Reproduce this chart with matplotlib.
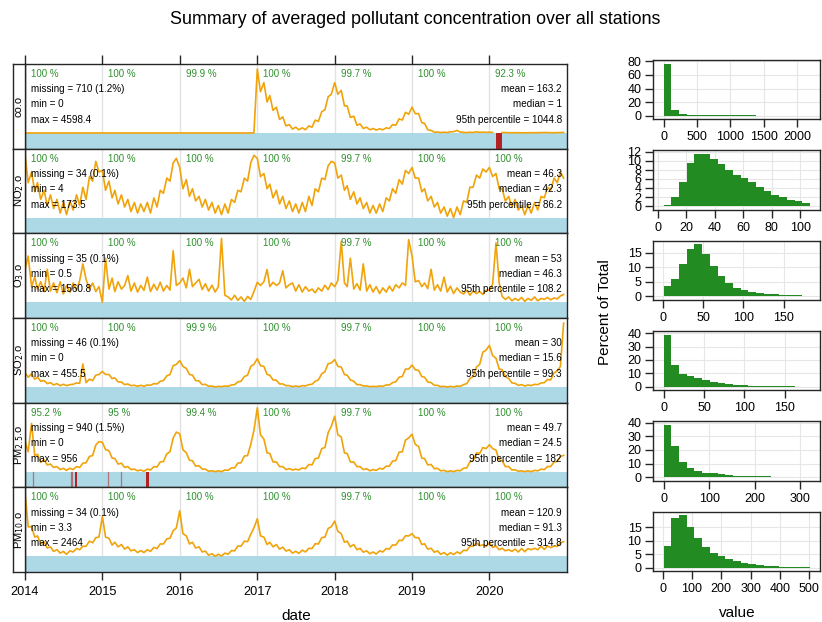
import numpy as np
import matplotlib
matplotlib.use("Agg")
import matplotlib.pyplot as plt
import matplotlib.dates as mdates
import matplotlib.transforms as mtransforms
from matplotlib.patches import Rectangle

plt.rcParams['font.family'] = ['Liberation Sans', 'DejaVu Sans']

# ---------------------------------------------------------------- data
years = [2014, 2015, 2016, 2017, 2018, 2019, 2020]
# semi-monthly averaged concentrations (1st and 16th of every month)
dates = np.array([np.datetime64(f"{y}-{m:02d}-{d:02d}")
                  for y in years for m in range(1, 13) for d in (1, 16)])

co_daily = [
    1, 0, 1, 1, 0, 1, 0, 0, 1, 0, 0, 1, 0, 0, 1, 0, 0, 1, 0, 1, 0, 1, 1, 0,
    1, 0, 0, 1, 0, 1, 0, 1, 0, 0, 1, 0, 0, 1, 0, 0, 1, 0, 1, 0, 0, 1, 0, 1,
    0, 1, 0, 0, 1, 0, 1, 0, 0, 1, 0, 0, 1, 0, 1, 0, 0, 1, 0, 1, 0, 0, 1, 2,
    990, 640, 780, 480, 580, 350, 400, 210, 250, 110, 130, 60, 90, 50, 80, 50, 110, 90, 200, 180, 330, 360, 560, 600,
    780, 600, 660, 420, 420, 240, 260, 120, 140, 70, 90, 50, 70, 45, 65, 50, 80, 70, 130, 120, 220, 200, 320, 290,
    400, 300, 300, 160, 150, 50, 40, 12, 15, 8, 12, 8, 18, 20, 40, 15, 10, 6, 12, 8, 18, 10, 14, 10,
    12, 10, np.nan, np.nan, 8, 6, 5, 5, 4, 4, 3, 3, 4, 4, 5, 5, 6, 8, 6, 5, 4, 5, 6, 8,
]
no2_daily = [
    104, 66, 80, 54, 66, 44, 56, 36, 50, 32, 44, 26, 40, 24, 42, 30, 50, 36, 60, 44, 74, 68, 94, 80,
    82, 56, 68, 46, 56, 38, 50, 34, 44, 28, 40, 26, 38, 28, 40, 26, 46, 34, 56, 52, 72, 68, 92, 98,
    86, 58, 70, 48, 58, 42, 48, 34, 44, 30, 40, 26, 36, 24, 38, 26, 44, 40, 56, 54, 72, 68, 92, 102,
    98, 74, 78, 58, 64, 46, 56, 38, 48, 32, 42, 28, 38, 26, 40, 28, 48, 36, 58, 54, 72, 70, 88, 94,
    92, 72, 76, 56, 62, 44, 54, 38, 46, 32, 40, 26, 36, 26, 38, 28, 46, 42, 58, 52, 70, 64, 82, 78,
    86, 72, 72, 54, 58, 42, 48, 34, 40, 26, 34, 22, 32, 20, 34, 24, 42, 40, 60, 60, 76, 72, 84, 80,
    86, 74, 78, 58, 58, 42, 48, 34, 44, 30, 36, 24, 36, 26, 40, 30, 48, 46, 60, 56, 72, 66, 80, 72,
]
o3_daily = [
    150, 205, 80, 120, 70, 100, 60, 151, 62, 95, 55, 100, 50, 85, 58, 95, 65, 105, 173, 110, 70, 95, 60, 80,
    16, 196, 70, 115, 60, 100, 70, 85, 125, 62, 95, 58, 85, 65, 119, 60, 90, 66, 98, 62, 85, 66, 227, 85,
    95, 115, 75, 151, 80, 95, 110, 68, 92, 62, 86, 58, 80, 277, 45, 38, 26, 45, 24, 38, 20, 40, 28, 60,
    98, 85, 100, 150, 80, 98, 85, 95, 145, 75, 88, 95, 62, 88, 58, 80, 62, 70, 55, 75, 62, 86, 68, 95,
    80, 105, 265, 95, 80, 196, 70, 92, 66, 173, 62, 88, 58, 80, 52, 75, 58, 82, 62, 88, 75, 95, 85, 272,
    205, 100, 105, 80, 95, 72, 151, 66, 88, 62, 119, 58, 82, 52, 75, 58, 50, 66, 45, 62, 52, 60, 48, 66,
    65, 90, 259, 95, 40, 28, 38, 22, 32, 24, 36, 20, 32, 24, 38, 22, 32, 28, 36, 26, 34, 30, 42, 48,
]
so2_daily = [
    45, 32, 42, 26, 32, 20, 22, 13, 16, 9, 13, 7, 11, 7, 10, 11, 15, 14, 71, 16, 26, 22, 38, 40,
    49, 40, 40, 28, 30, 18, 18, 10, 12, 7, 8, 5, 8, 5, 9, 8, 13, 12, 20, 22, 36, 40, 66, 70,
    81, 64, 58, 40, 38, 22, 21, 10, 11, 5, 6, 3, 5, 4, 6, 5, 9, 10, 18, 20, 34, 38, 64, 70,
    87, 66, 64, 40, 38, 24, 23, 12, 12, 7, 7, 4, 6, 4, 7, 6, 10, 11, 20, 24, 42, 48, 72, 74,
    84, 64, 62, 40, 38, 24, 20, 10, 10, 6, 6, 4, 5, 4, 6, 5, 9, 9, 16, 18, 32, 34, 56, 56,
    68, 54, 52, 34, 32, 18, 16, 8, 8, 4, 5, 3, 5, 3, 6, 5, 10, 13, 28, 34, 62, 70, 106, 112,
    126, 96, 88, 56, 54, 34, 28, 15, 14, 8, 10, 6, 9, 7, 11, 10, 15, 16, 25, 24, 45, 50, 64, 192,
]
pm25_daily = [
    150, 100, 234, 82, 88, 50, 62, 38, 42, 26, 30, 16, 22, 12, 22, 16, 30, 26, 46, 48, 78, 82, 132, 148,
    145, 110, 105, 70, 68, 42, 46, 26, 30, 16, 18, 10, 14, 8, 18, 14, 30, 28, 52, 54, 90, 100, 165, 193,
    185, 110, 95, 60, 58, 32, 34, 18, 18, 8, 10, 6, 10, 6, 14, 12, 24, 24, 46, 48, 80, 82, 135, 200,
    308, 180, 160, 95, 92, 52, 52, 30, 30, 16, 20, 14, 18, 14, 24, 20, 40, 38, 68, 70, 115, 120, 190, 220,
    268, 180, 170, 95, 92, 52, 52, 30, 30, 16, 20, 10, 16, 12, 22, 18, 32, 32, 56, 58, 98, 100, 155, 165,
    183, 135, 125, 70, 68, 38, 40, 20, 22, 10, 12, 6, 10, 6, 12, 10, 22, 24, 52, 58, 95, 92, 120, 115,
    133, 115, 108, 60, 58, 30, 30, 14, 15, 8, 10, 6, 10, 6, 12, 10, 18, 16, 30, 30, 52, 54, 78, 83,
]
pm10_daily = [
    600, 300, 300, 210, 220, 150, 170, 115, 125, 85, 100, 70, 85, 60, 90, 80, 110, 100, 130, 130, 175, 160, 205, 210,
    390, 210, 200, 140, 165, 125, 145, 105, 125, 90, 100, 75, 92, 75, 100, 85, 120, 110, 150, 150, 195, 200, 265, 290,
    440, 240, 220, 150, 165, 115, 125, 80, 88, 52, 65, 42, 60, 45, 70, 60, 92, 90, 132, 130, 175, 170, 235, 290,
    370, 220, 210, 145, 165, 125, 145, 105, 122, 88, 100, 70, 86, 68, 96, 80, 112, 110, 152, 150, 205, 210, 285, 300,
    350, 260, 240, 165, 175, 125, 145, 100, 112, 78, 90, 64, 80, 62, 90, 80, 110, 105, 142, 140, 182, 180, 222, 220,
    240, 205, 205, 145, 152, 105, 112, 78, 90, 60, 75, 52, 74, 58, 80, 66, 95, 92, 130, 130, 160, 135, 142, 128,
    160, 120, 132, 100, 112, 90, 100, 85, 105, 80, 110, 82, 110, 100, 112, 100, 130, 102, 132, 118, 132, 128, 160, 170,
]

# gaps in the record (start, end)
co_missing = [("2020-01-30", "2020-02-27")]
pm25_missing = [("2014-02-07", "2014-02-08"), ("2014-08-04", "2014-08-05"),
                ("2014-08-10", "2014-08-11"), ("2014-08-25", "2014-09-04"),
                ("2015-01-27", "2015-01-28"), ("2015-04-01", "2015-04-02"),
                ("2015-07-27", "2015-08-11")]

# data capture per year (%)
co_capture = ["100", "100", "99.9", "100", "99.7", "100", "92.3"]
no2_capture = ["100", "100", "100", "100", "99.7", "100", "100"]
o3_capture = ["100", "100", "100", "100", "99.7", "100", "100"]
so2_capture = ["100", "100", "99.9", "100", "99.7", "100", "100"]
pm25_capture = ["95.2", "95", "99.4", "100", "99.7", "100", "100"]
pm10_capture = ["100", "100", "100", "100", "99.7", "100", "100"]

# summary statistics: missing, min, max, mean, median, 95th percentile
co_stats = ["710 (1.2%)", "0", "4598.4", "163.2", "1", "1044.8"]
no2_stats = ["34 (0.1%)", "4", "173.5", "46.3", "42.3", "86.2"]
o3_stats = ["35 (0.1%)", "0.5", "1560.8", "53", "46.3", "108.2"]
so2_stats = ["46 (0.1%)", "0", "455.5", "30", "15.6", "99.3"]
pm25_stats = ["940 (1.5%)", "0", "956", "49.7", "24.5", "182"]
pm10_stats = ["34 (0.1%)", "3.3", "2464", "120.9", "91.3", "314.8"]

# histograms: percent of total per bin, value range covered by the bins
co_hist = [76.7, 8.3, 2.4, 1.0, 0.8, 0.7, 0.6, 0.5, 0.5, 0.45, 0.4, 0.4, 0.35, 0.3, 0.3, 0.25, 0.2, 0.2, 0.15]
no2_hist = [0.2, 1.9, 5.4, 9.5, 11.5, 11.4, 10.4, 9.4, 8.0, 6.9, 6.1, 5.4, 4.3, 3.3, 2.5, 1.9, 1.4, 1.1, 0.6]
o3_hist = [3.4, 6.0, 11.1, 16.2, 17.8, 14.6, 10.5, 6.9, 4.5, 2.8, 2.1, 1.6, 1.1, 0.9, 0.7, 0.55, 0.45, 0.35, 0.3]
so2_hist = [38.8, 16.5, 9.9, 7.9, 6.2, 4.9, 3.7, 3.0, 2.2, 1.5, 1.0, 0.8, 0.6, 0.5, 0.4, 0.3, 0.25, 0.2, 0.15]
pm25_hist = [38.3, 22.9, 11.0, 6.6, 4.6, 3.4, 2.7, 2.0, 1.5, 1.2, 0.9, 0.8, 0.6, 0.5, 0.4, 0.35, 0.3, 0.25, 0.2]
pm10_hist = [8.0, 18.5, 19.3, 15.0, 10.9, 7.6, 5.4, 4.2, 3.2, 2.5, 1.7, 1.2, 0.9, 0.6, 0.45, 0.35, 0.25, 0.2, 0.15]
co_range, no2_range, o3_range = (0, 2193), (4, 107), (0.5, 183)
so2_range, pm25_range, pm10_range = (0, 181), (0, 321), (3.3, 503)

strip_labels = ["co.o", "NO$_2$.o", "O$_3$.o", "SO$_2$.o", "PM$_{2.5}$.o", "PM$_{10}$.o"]

series = [co_daily, no2_daily, o3_daily, so2_daily, pm25_daily, pm10_daily]
missing = [co_missing, [], [], [], pm25_missing, []]
captures = [co_capture, no2_capture, o3_capture, so2_capture, pm25_capture, pm10_capture]
stats = [co_stats, no2_stats, o3_stats, so2_stats, pm25_stats, pm10_stats]
hists = [co_hist, no2_hist, o3_hist, so2_hist, pm25_hist, pm10_hist]
ranges = [co_range, no2_range, o3_range, so2_range, pm25_range, pm10_range]
hist_xticks = [[0, 500, 1000, 1500, 2000], list(range(0, 101, 20)), [0, 50, 100, 150],
               [0, 50, 100, 150], [0, 100, 200, 300], list(range(0, 501, 100))]
hist_yticks = [list(range(0, 81, 20)), list(range(0, 13, 2)), [0, 5, 10, 15],
               [0, 10, 20, 30, 40], [0, 10, 20, 30, 40], [0, 5, 10, 15]]

# ---------------------------------------------------------------- styling
W, H = 822, 622
LINE = "#f0a30a"
BAR = "#add8e6"
MISS = "#b22222"
GREEN = "#2f8f2f"
HISTC = "#228b22"
FRAME = "#262626"

fig = plt.figure(figsize=(W / 100, H / 100), dpi=100)


def px_axes(x0, y0, x1, y1):
    return fig.add_axes([x0 / W, 1 - y1 / H, (x1 - x0) / W, (y1 - y0) / H])


def style_frame(ax):
    for s in ax.spines.values():
        s.set_color(FRAME)
        s.set_linewidth(1.0)


fig.text(0.505, 1 - 20 / H, "Summary of averaged pollutant concentration over all stations",
         ha="center", va="center", fontsize=12.9)

# ---------------------------------------------------------------- time series panels
X0, X1, SX0 = 25, 567, 12.7
TOP, PH = 64, 508 / 6
F_BAR, F_TOP = 0.185, 0.06
xmin, xmax = np.datetime64("2014-01-01"), np.datetime64("2021-01-01")
year_starts = [np.datetime64(f"{y}-01-01") for y in years]

for i in range(6):
    top = TOP + i * PH
    ax = px_axes(X0, top, X1, top + PH)
    sx = px_axes(SX0, top, X0, top + PH)

    vals = np.array(series[i], dtype=float)
    dmin, dmax = np.nanmin(vals), np.nanmax(vals)
    span = dmax - dmin
    usable = 1 - F_BAR - F_TOP
    ax.set_ylim(dmin - span * F_BAR / usable, dmax + span * F_TOP / usable)
    ax.set_xlim(xmin, xmax)

    for ys in year_starts:
        ax.axvline(ys, color="#e2e2e2", lw=1.0, zorder=0)
    ax.add_patch(Rectangle((0, 0), 1, F_BAR, transform=ax.transAxes,
                           color=BAR, lw=0, zorder=1))
    ax.plot(dates, vals, color=LINE, lw=1.2, zorder=2)

    btrans = mtransforms.blended_transform_factory(ax.transData, ax.transAxes)
    for s, e in missing[i]:
        a = mdates.date2num(np.datetime64(s))
        b = mdates.date2num(np.datetime64(e))
        if b - a < 3:
            ax.plot([a, a], [0, F_BAR], transform=btrans, color=MISS,
                    lw=0.9, alpha=0.55, zorder=3)
        else:
            ax.add_patch(Rectangle((a, 0), b - a, F_BAR, transform=btrans,
                                   color=MISS, lw=0, zorder=3))

    # data capture per year
    shift = mtransforms.ScaledTranslation(6 / 100, 0, fig.dpi_scale_trans)
    for ys, cap in zip(year_starts, captures[i]):
        ax.text(ys, 1 - 10 / PH, f"{cap} %", transform=btrans + shift,
                color=GREEN, fontsize=7.0, va="center", ha="left", zorder=4)

    st = stats[i]
    rows = [1 - 25.3 / PH, 1 - 40.3 / PH, 1 - 56 / PH]
    for y, t in zip(rows, [f"missing = {st[0]}", f"min = {st[1]}", f"max = {st[2]}"]):
        ax.text(6 / 542, y, t, transform=ax.transAxes, fontsize=7.1,
                va="center", ha="left", zorder=4)
    for y, t in zip(rows, [f"mean = {st[3]}", f"median = {st[4]}", f"95th percentile = {st[5]}"]):
        ax.text(1 - 5.3 / 542, y, t, transform=ax.transAxes, fontsize=7.1,
                va="center", ha="right", zorder=4)

    ax.set_yticks([])
    ax.set_xticks(year_starts)
    if i == 0:
        ax.tick_params(axis="x", top=True, bottom=False, labelbottom=False,
                       direction="out", length=6.5, width=1.0, color=FRAME)
    elif i == 5:
        ax.tick_params(axis="x", top=False, bottom=True, labelbottom=True,
                       direction="out", length=6, width=1.0, color=FRAME,
                       labelsize=9.2, pad=4)
        ax.set_xticklabels([str(y) for y in years])
        ax.set_xlabel("date", fontsize=11, labelpad=8)
    else:
        ax.tick_params(axis="x", top=False, bottom=False, labelbottom=False)
    style_frame(ax)

    sx.set_xticks([])
    sx.set_yticks([])
    style_frame(sx)
    sx.text(0.5, 0.5, strip_labels[i], rotation=90, ha="center", va="center",
            fontsize=8, transform=sx.transAxes)

# ---------------------------------------------------------------- histograms
HX0, HX1 = 653.3, 820.3
HTOP, HSTEP, HH = 60, 90.35, 59.4
for i in range(6):
    top = HTOP + i * HSTEP
    hx = px_axes(HX0, top, HX1, top + HH)
    pct = np.array(hists[i])
    lo, hi = ranges[i]
    edges = np.linspace(lo, hi, len(pct) + 1)
    hx.bar(edges[:-1], pct, width=np.diff(edges), align="edge",
           color=HISTC, lw=0, zorder=2)
    r = hi - lo
    hx.set_xlim(lo - 0.07 * r, hi + 0.07 * r)
    m = pct.max()
    hx.set_ylim(-0.07 * m, m * 1.07)
    hx.set_xticks(hist_xticks[i])
    hx.set_yticks(hist_yticks[i])
    hx.grid(True, color="#e6e6e6", lw=0.8, zorder=0)
    hx.set_axisbelow(True)
    hx.tick_params(direction="out", length=5.5, width=1.0, color=FRAME,
                   labelsize=9, pad=3)
    style_frame(hx)
    if i == 5:
        hx.set_xlabel("value", fontsize=11, labelpad=8)

fig.text(605 / W, 1 - 312 / H, "Percent of Total", rotation=90,
         ha="center", va="center", fontsize=11)

fig.savefig("out.png", dpi=100)
